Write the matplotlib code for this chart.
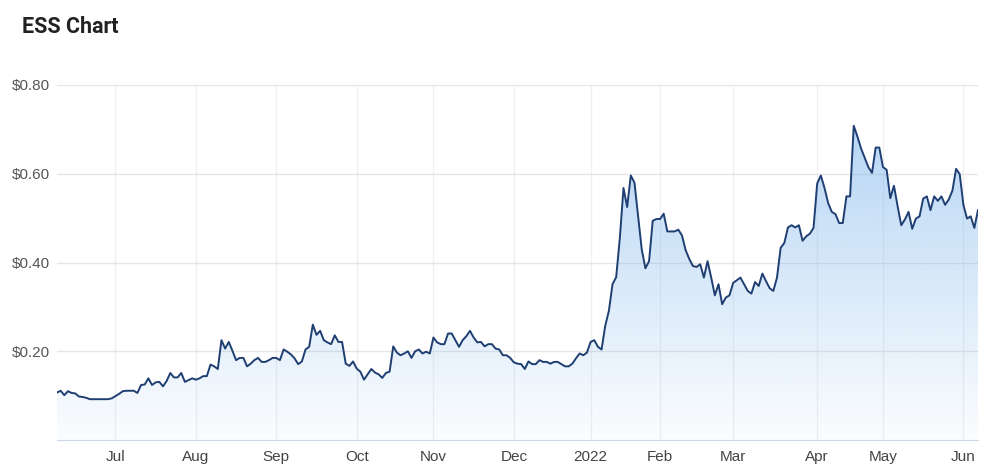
import numpy as np
import pandas as pd
import matplotlib
matplotlib.use("Agg")
from matplotlib import pyplot as plt
from matplotlib.colors import to_rgb

title = "ESS Chart"
start_date = "2021-06-08"
end_date = "2022-06-07"
asx_holidays = [
    "2021-06-14", "2021-12-27", "2021-12-28", "2022-01-03",
    "2022-01-26", "2022-04-15", "2022-04-18", "2022-04-25",
]

# closing prices, one per trading day
jun_2021 = [0.107, 0.111, 0.101, 0.110, 0.106, 0.105, 0.098, 0.097, 0.095, 0.092,
            0.092, 0.092, 0.092, 0.092, 0.092, 0.094]
jul_2021 = [0.099, 0.104, 0.110, 0.111, 0.111, 0.111, 0.106, 0.124, 0.125, 0.139,
            0.124, 0.130, 0.131, 0.121, 0.133, 0.151, 0.141, 0.141, 0.151, 0.131,
            0.135, 0.139]
aug_2021 = [0.136, 0.139, 0.144, 0.144, 0.170, 0.166, 0.160, 0.225, 0.206, 0.221,
            0.201, 0.180, 0.185, 0.185, 0.166, 0.172, 0.180, 0.185, 0.176, 0.176,
            0.180, 0.185]
sep_2021 = [0.185, 0.180, 0.204, 0.199, 0.193, 0.184, 0.171, 0.177, 0.204, 0.210,
            0.260, 0.237, 0.246, 0.225, 0.220, 0.216, 0.236, 0.221, 0.221, 0.172,
            0.167, 0.177]
oct_2021 = [0.161, 0.154, 0.136, 0.148, 0.160, 0.152, 0.148, 0.140, 0.151, 0.154,
            0.211, 0.197, 0.191, 0.195, 0.200, 0.185, 0.200, 0.204, 0.195, 0.199,
            0.195]
nov_2021 = [0.231, 0.220, 0.216, 0.216, 0.240, 0.240, 0.225, 0.210, 0.225, 0.234,
            0.246, 0.231, 0.220, 0.221, 0.211, 0.216, 0.216, 0.206, 0.204, 0.191,
            0.191, 0.185]
dec_2021 = [0.175, 0.172, 0.171, 0.160, 0.177, 0.171, 0.171, 0.180, 0.176, 0.176,
            0.172, 0.176, 0.176, 0.171, 0.166, 0.166, 0.172, 0.184, 0.195, 0.191,
            0.197]
jan_2022 = [0.221, 0.225, 0.210, 0.204, 0.257, 0.291, 0.351, 0.367, 0.455, 0.568,
            0.525, 0.596, 0.580, 0.504, 0.429, 0.387, 0.403, 0.494, 0.498]
feb_2022 = [0.498, 0.510, 0.470, 0.470, 0.470, 0.474, 0.461, 0.428, 0.408, 0.392,
            0.390, 0.396, 0.366, 0.403, 0.366, 0.326, 0.351, 0.306, 0.321, 0.326]
mar_2022 = [0.354, 0.360, 0.366, 0.351, 0.336, 0.330, 0.356, 0.347, 0.375, 0.358,
            0.342, 0.336, 0.366, 0.433, 0.444, 0.479, 0.484, 0.479, 0.484, 0.449,
            0.459, 0.465, 0.478]
apr_2022 = [0.578, 0.596, 0.568, 0.534, 0.514, 0.509, 0.489, 0.489, 0.549, 0.549,
            0.708, 0.684, 0.657, 0.636, 0.615, 0.602, 0.659, 0.659]
may_2022 = [0.615, 0.609, 0.545, 0.573, 0.527, 0.484, 0.497, 0.514, 0.476, 0.499,
            0.504, 0.544, 0.549, 0.518, 0.549, 0.539, 0.549, 0.530, 0.542, 0.562,
            0.611, 0.599]
jun_2022 = [0.530, 0.499, 0.504, 0.478, 0.518]

y_ticks = [0.2, 0.4, 0.6, 0.8]

prices = np.concatenate([jun_2021, jul_2021, aug_2021, sep_2021, oct_2021, nov_2021,
                         dec_2021, jan_2022, feb_2022, mar_2022, apr_2022, may_2022,
                         jun_2022])
trading_days = pd.bdate_range(start_date, end_date, freq="C", holidays=asx_holidays)
assert len(trading_days) == len(prices), (len(trading_days), len(prices))
x = np.arange(len(prices))

# first trading day of every month gets a tick
months = np.asarray(trading_days.month)
new_month = np.r_[False, months[1:] != months[:-1]]
tick_pos = x[new_month]
tick_labels = [d.strftime("%Y") if d.month == 1 else d.strftime("%b")
               for d in trading_days[new_month]]

fig = plt.figure(figsize=(10, 4.74), dpi=100)
ax = fig.add_axes([0.057, 0.0717, 0.921, 0.749])

# gradient under the line
fill = ax.fill_between(x, prices, 0, color="none", linewidth=0)
alpha = np.linspace(0.03, 0.62, 256)
rgba = np.zeros((256, 1, 4))
rgba[..., :3] = to_rgb("#7cb5ec")
rgba[:, 0, 3] = alpha
im = ax.imshow(rgba, extent=[x[0], x[-1], 0, 0.8], origin="lower",
               aspect="auto", zorder=1, interpolation="bilinear")
im.set_clip_path(fill.get_paths()[0], transform=ax.transData)

ax.plot(x, prices, color="#1f3f73", linewidth=1.4, zorder=3)

ax.set_xlim(x[0], x[-1])
ax.set_ylim(0, 0.8)
ax.set_yticks(y_ticks)
ax.set_yticklabels([f"${v:.2f}" for v in y_ticks])
ax.set_xticks(tick_pos)
ax.set_xticklabels(tick_labels)

ax.set_axisbelow(True)
ax.grid(True, axis="y", color="#e6e6e6", linewidth=1)
ax.grid(True, axis="x", color="#f0f0f0", linewidth=1)
ax.tick_params(length=0)
ax.tick_params(axis="y", pad=5, labelsize=11, labelcolor="#555555")
ax.tick_params(axis="x", pad=7, labelsize=11, labelcolor="#444444")
for lbl in ax.get_yticklabels():
    lbl.set_family(["Liberation Sans", "DejaVu Sans"])
for lbl in ax.get_xticklabels():
    lbl.set_family(["Liberation Sans Narrow", "Liberation Sans", "DejaVu Sans"])

for side in ["top", "left", "right"]:
    ax.spines[side].set_visible(False)
ax.spines["bottom"].set_color("#ccd6eb")

fig.text(0.022, 0.942, title, fontsize=15.5, fontweight="bold", color="#222222",
         family=["Roboto", "DejaVu Sans"], va="center", ha="left")

fig.savefig("out.png", dpi=100)
